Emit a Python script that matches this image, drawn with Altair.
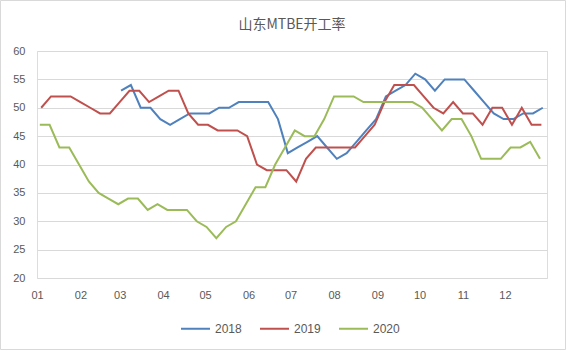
import altair as alt
import pandas as pd

# ---- data (weekly operating rate, %) ----
series_names = ["2018", "2019", "2020"]
series_start = ["2018-03-02", "2019-01-04", "2020-01-03"]

v2018 = [53, 54, 50, 50, 48, 47, 48, 49, 49, 49,
         50, 50, 51, 51, 51, 51, 48, 42,
         43, 44, 45, 43, 41, 42, 44, 46, 48,
         52, 53, 54, 56, 55, 53, 55, 55, 55, 53, 51, 49, 48, 48, 49, 49, 50]
v2019 = [50, 52, 52, 52, 51, 50, 49, 49, 51, 53,
         53, 51, 52, 53, 53, 49, 47, 47, 46, 46,
         46, 45, 40, 39, 39, 39, 37, 41, 43, 43,
         43, 43, 43, 45, 47, 51, 54, 54, 54, 52,
         50, 49, 51, 49, 49, 47, 50, 50, 47, 50,
         47, 47]
v2020 = [47, 47, 43, 43, 40, 37, 35, 34, 33, 34,
         34, 32, 33, 32, 32, 32, 30, 29, 27, 29,
         30, 33, 36, 36, 40, 43, 46, 45, 45, 48,
         52, 52, 52, 51, 51, 51, 51, 51, 51, 50,
         48, 46, 48, 48, 45, 41, 41, 41, 43, 43,
         44, 41]
series_values = [v2018, v2019, v2020]

colors = ["#4F81BD", "#C0504D", "#9BBB59"]
month_labels = ["01", "02", "03", "04", "05", "06", "07", "08", "09", "10", "11", "12"]
y_ticks = [20, 25, 30, 35, 40, 45, 50, 55, 60]
title_text = "山东MTBE开工率"

# ---- build long table on a common (2019) calendar ----
base = pd.Timestamp("2019-01-01")
rows = []
for name, start, vals in zip(series_names, series_start, series_values):
    dates = pd.date_range(start, periods=len(vals), freq="7D")
    y0 = pd.Timestamp(f"{dates[0].year}-01-01")
    for d, v in zip(dates, vals):
        rows.append({"date": (base + (d - y0)).strftime("%Y-%m-%dT00:00:00"),
                     "series": name, "value": v})
df = pd.DataFrame(rows)

font = "Liberation Sans"
gray = "#595959"

month_vals = [alt.DateTime(year=2019, month=i + 1, date=1) for i in range(12)]

lines = alt.Chart(df).mark_line(strokeWidth=2).encode(
    x=alt.X("date:T",
            scale=alt.Scale(domain=[alt.DateTime(year=2019, month=1, date=1),
                                    alt.DateTime(year=2019, month=12, date=31)]),
            axis=alt.Axis(values=month_vals, format="%m", title=None, grid=False,
                          ticks=False, domain=False, labelPadding=11,
                          labelFont=font, labelFontSize=11, labelColor=gray,
                          labelAlign="center")),
    y=alt.Y("value:Q",
            scale=alt.Scale(domain=[20, 60], nice=False, zero=False),
            axis=alt.Axis(values=y_ticks, title=None, ticks=False, domain=False,
                          labelPadding=12, gridColor="#D9D9D9", gridWidth=1,
                          labelFont=font, labelFontSize=11, labelColor=gray)),
    color=alt.Color("series:N",
                    scale=alt.Scale(domain=series_names, range=colors),
                    legend=alt.Legend(title=None, orient="none", direction="horizontal",
                                      legendX=143, legendY=262,
                                      symbolType="stroke", symbolSize=841,
                                      symbolStrokeWidth=2, labelFont=font,
                                      labelFontSize=12, labelColor=gray,
                                      labelOffset=4, columnPadding=14)),
)

frame = alt.Chart(pd.DataFrame({"k": [0]})).mark_rect(
    fill=None, stroke="#D9D9D9", strokeWidth=1
).encode(x=alt.value(-36.5), x2=alt.value(528.5), y=alt.value(-50.5), y2=alt.value(298.5))

chart = alt.layer(frame, lines).properties(
    width=510, height=227,
    title=alt.TitleParams(title_text, font="Noto Sans CJK SC", fontSize=14,
                          fontWeight="normal", color=gray, offset=-32, anchor="middle"),
    autosize=alt.AutoSizeParams(type="none"),
    padding={"left": 37, "top": 51, "right": 20, "bottom": 73},
).configure_view(stroke=None).configure(background="white")

chart.save("out.html", embed_options={"renderer": "svg", "actions": False})
